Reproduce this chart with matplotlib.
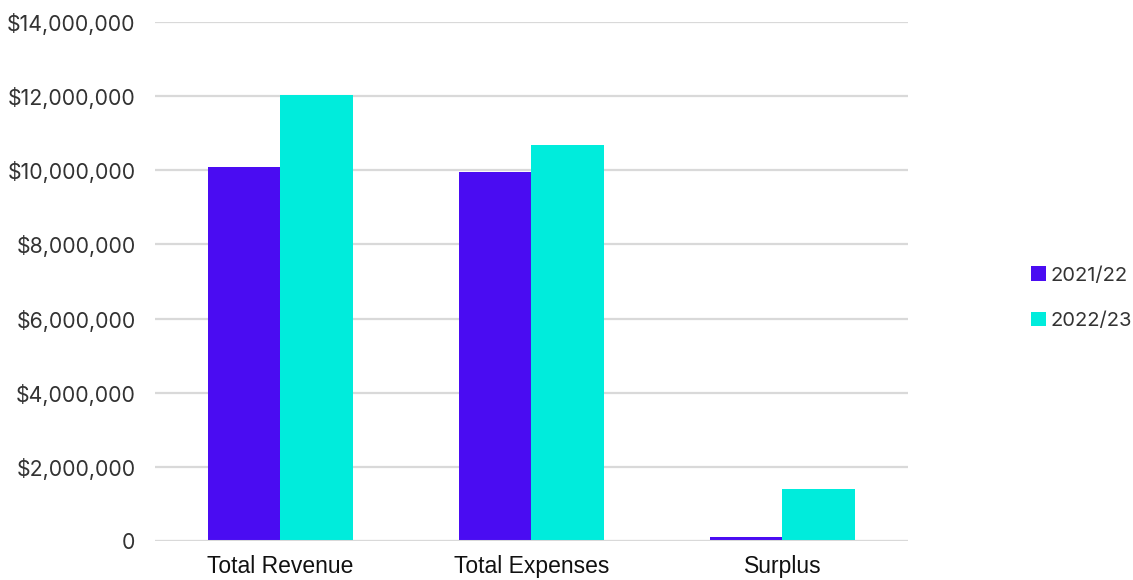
import matplotlib.pyplot as plt
import numpy as np
from matplotlib.ticker import FuncFormatter

# data
categories = ['Total Revenue', 'Total Expenses', 'Surplus']
years = ['2021/22', '2022/23']
values_2122 = [10100000, 9950000, 110000]
values_2223 = [12030000, 10680000, 1400000]
y_ticks = [0, 2000000, 4000000, 6000000, 8000000, 10000000, 12000000, 14000000]

purple = '#4a0cf2'
cyan = '#00ecdc'

fig = plt.figure(figsize=(11.33, 5.8), dpi=100)
ax = fig.add_axes([0.1368, 0.0672, 0.6646, 0.8948])

x = np.arange(len(categories))
w = 0.287
ax.bar(x - w / 2, values_2122, w, color=purple, label=years[0], zorder=3)
ax.bar(x + w / 2, values_2223, w, color=cyan, label=years[1], zorder=3)

ax.set_xlim(-0.5, 2.5)
ax.set_ylim(0, 14000000)
ax.set_yticks(y_ticks)
ax.yaxis.set_major_formatter(FuncFormatter(lambda v, p: '0' if v == 0 else '${:,.0f}'.format(v)))
ax.grid(axis='y', color='#d9d9d9', linewidth=1.6, zorder=0)
ax.axhline(0, color='#d9d9d9', linewidth=2.2, zorder=4)

for s in ax.spines.values():
    s.set_visible(False)
ax.tick_params(axis='both', length=0)
ax.tick_params(axis='y', pad=14, labelsize=15.3, labelcolor='#333333')
ax.tick_params(axis='x', pad=10, labelsize=16.5, labelcolor='#111111')
for t in ax.get_yticklabels():
    t.set_family('Inter')
ax.set_xticks(x)
ax.set_xticklabels(categories, family='Liberation Sans')

leg = fig.legend(loc='center left', bbox_to_anchor=(0.910, 0.486), frameon=False,
                 handlelength=0.75, handleheight=0.75, handletextpad=0.2,
                 labelspacing=1.35, borderpad=0, borderaxespad=0,
                 prop={'family': 'Inter', 'size': 14.5})
for t in leg.get_texts():
    t.set_color('#333333')

fig.savefig('out.png', dpi=100)
